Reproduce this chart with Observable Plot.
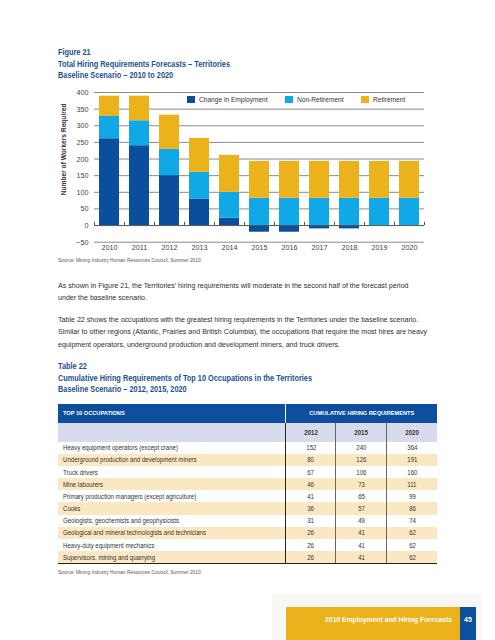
<!DOCTYPE html>
<html>
<head>
<meta charset="utf-8">
<script src="https://cdn.jsdelivr.net/npm/d3@7"></script>
<script src="https://cdn.jsdelivr.net/npm/@observablehq/plot@0.6"></script>
<style>
  html, body { margin: 0; padding: 0; background: #fff; }
  body { width: 495px; height: 640px; overflow: hidden; }
  #page { position: relative; width: 495px; height: 640px;
    font-family: "Liberation Sans", Arial, sans-serif; color: #333; }
  .abs { position: absolute; white-space: nowrap; transform-origin: 0 50%; }
  .ttl { color: #1c4f91; font-weight: bold; font-size: 9px; line-height: 11.6px; }
  .src { font-size: 5px; line-height: 6px; color: #555; }
  .para { font-size: 8px; line-height: 12.7px; color: #2e2e2e; }
  #chart { position: absolute; left: 0; top: 82px; }
  #legend { position: absolute; top: 95.7px; left: 187.3px; display: flex; font-size: 8px; line-height: 7.3px; color: #333; white-space: nowrap; }
  #legend .item { display: flex; align-items: center; margin-right: 18px; }
  #legend .sw { width: 7.3px; height: 7.3px; margin-right: 4px; flex: none; }
  #legend .lt { display: inline-block; transform-origin: 0 50%; }
  table { position: absolute; left: 58px; top: 404px; width: 379px; border-collapse: collapse; table-layout: fixed; font-size: 6.4px; }
  td, th { padding: 0; white-space: nowrap; overflow: visible; }
  .t { display: inline-block; }
  .tl { transform-origin: 0 50%; }
  .tc { transform-origin: 50% 50%; }
  .hdr th { background: #0d4f9e; color: #fff; font-weight: bold; height: 18.7px; font-size: 6px; }
  .sub td { background: #d8dbec; height: 19px; font-weight: bold; text-align: center; color: #333; }
  .row td { height: 12.16px; color: #333; }
  .row.alt td { background: #fbe8c2; }
  .num { text-align: center; }
  .c1 { border-right: 1px solid #222; }
  .cd { border-right: 1.5px solid #666; }
  .hdr .c1 { border-right: 1px solid #fff; }
  .last td { border-bottom: 1.2px solid #222; }
  .foot { color: #fff; font-weight: bold; font-size: 7px; line-height: 11px; height: 11px; }
</style>
</head>
<body>
<div id="page">
  <div class="abs ttl" style="left:58px; top:47px;">Figure 21<br>Total Hiring Requirements Forecasts – Territories<br>Baseline Scenario – 2010 to 2020</div>
  <div id="chart"></div>
  <div id="legend"></div>
  <div class="abs src" style="left:58px; top:257px;">Source: Mining Industry Human Resources Council, Summer 2010.</div>
  <div class="abs para" style="left:58px; top:279.6px;">As shown in Figure 21, the Territories’ hiring requirements will moderate in the second half of the forecast period<br>under the baseline scenario.</div>
  <div class="abs para" style="left:58px; top:313.6px;">Table 22 shows the occupations with the greatest hiring requirements in the Territories under the baseline scenario.<br>Similar to other regions (Atlantic, Prairies and British Columbia), the occupations that require the most hires are heavy<br>equipment operators, underground production and development miners, and truck drivers.</div>
  <div class="abs ttl" style="left:58px; top:361.2px;">Table 22<br>Cumulative Hiring Requirements of Top 10 Occupations in the Territories<br>Baseline Scenario – 2012, 2015, 2020</div>
  <table id="tbl"></table>
  <div class="abs src" style="left:58px; top:568.7px;">Source: Mining Industry Human Resources Council, Summer 2010.</div>
  <div class="abs" style="left:272px; top:594px; width:210px; height:46px; background:#f7f7f5;"></div>
  <div class="abs" style="left:286px; top:607px; width:174px; height:33px; background:#ebb21b;"></div>
  <div class="abs" style="left:460px; top:607px; width:16px; height:33px; background:#0c4f9c;"></div>
  <div class="abs foot" style="left:286px; top:614px; width:166px; text-align:right;"><span id="foot" class="t" style="transform-origin:100% 50%; vertical-align:top;">2010 Employment and Hiring Forecasts</span></div>
  <div class="abs foot" style="left:460px; top:614px; width:16px; text-align:center;">45</div>
</div>
<script>
// ---- Figure 21 data ----
const years = ["2010","2011","2012","2013","2014","2015","2016","2017","2018","2019","2020"];
const changeInEmployment = [261, 240, 150, 80, 22, -20, -20, -10, -10, 0, 0];
const nonRetirement = [67, 75, 79, 80, 78, 82, 82, 82, 82, 82, 82];
const retirement = [61, 74, 103, 102, 111, 111, 111, 111, 111, 111, 111];
const seriesNames = ["Change in Employment", "Non-Retirement", "Retirement"];
const seriesColors = ["#0b4f9c", "#10a8e6", "#ebb21b"];
const yTicks = [-50, 0, 50, 100, 150, 200, 250, 300, 350, 400];
const yTitle = "Number of Workers Required";

// ---- Table 22 data ----
const occupations = [
  "Heavy equipment operators (except crane)",
  "Underground production and development miners",
  "Truck drivers",
  "Mine labourers",
  "Primary production managers (except agriculture)",
  "Cooks",
  "Geologists, geochemists and geophysicists",
  "Geological and mineral technologists and technicians",
  "Heavy-duty equipment mechanics",
  "Supervisors, mining and quarrying"
];
const tableYears = ["2012", "2015", "2020"];
const hires2012 = [152, 80, 67, 46, 41, 36, 31, 26, 26, 26];
const hires2015 = [240, 126, 106, 73, 65, 57, 49, 41, 41, 41];
const hires2020 = [364, 191, 160, 111, 99, 86, 74, 62, 62, 62];

// condensed look: horizontal scale factors fitted to sample widths of the original
const ctx = document.createElement("canvas").getContext("2d");
function fit(text, weight, size, target) {
  ctx.font = `${weight} ${size}px "Liberation Sans"`;
  return target / ctx.measureText(text).width;
}
const sTitle = fit("Total Hiring Requirements Forecasts – Territories", "bold", 9, 172);
const sPara = fit("Similar to other regions (Atlantic, Prairies and British Columbia), the occupations that require the most hires are heavy", "normal", 8, 369);
const sSrc = fit("Source: Mining Industry Human Resources Council, Summer 2010.", "normal", 5, 144);
const sCell = fit("Geological and mineral technologists and technicians", "normal", 6.4, 143);
const sHead = fit("CUMULATIVE HIRING REQUIREMENTS", "bold", 6, 105);
const sTick = fit("2010", "normal", 8, 16);
const sLegend = fit("Change in Employment", "normal", 8, 68.6);
const sYLabel = fit(yTitle, "bold", 8, 92);
const sFoot = fit("2010 Employment and Hiring Forecasts", "bold", 7, 127);

document.querySelectorAll(".ttl").forEach(e => e.style.transform = `scaleX(${sTitle})`);
document.querySelectorAll(".para").forEach(e => e.style.transform = `scaleX(${sPara})`);
document.querySelectorAll(".src").forEach(e => e.style.transform = `scaleX(${sSrc})`);
document.getElementById("foot").style.transform = `scaleX(${sFoot})`;

const seriesValues = [changeInEmployment, nonRetirement, retirement];
const data = [];
years.forEach((y, i) => seriesNames.forEach((s, k) => data.push({year: y, series: s, value: seriesValues[k][i]})));

const chart = Plot.plot({
  width: 495,
  height: 175,
  marginLeft: 94,
  marginRight: 71,
  marginTop: 10,
  marginBottom: 15.3,
  style: {fontFamily: '"Liberation Sans", Arial, sans-serif', fontSize: "8px", color: "#444", background: "transparent"},
  x: {domain: years, paddingInner: 1/3, paddingOuter: 1/6, axis: null},
  y: {domain: [-50, 400], axis: null},
  color: {domain: seriesNames, range: seriesColors},
  marks: [
    Plot.ruleY(yTicks.filter(d => d !== 0), {stroke: "#8a8a8a", strokeWidth: 1}),
    Plot.barY(data, {x: "year", y: "value", fill: "series", order: seriesNames}),
    Plot.ruleY([0], {stroke: "#555", strokeWidth: 1}),
    Plot.ruleX(years, {x: d => d, y1: 0, y2: 10, dx: -15, stroke: "#555"}),
    Plot.ruleX(years.slice(-1), {x: d => d, y1: 0, y2: 10, dx: 15, stroke: "#555"}),
    Plot.axisY({ticks: yTicks, tickSize: 0, tickPadding: 6, tickFormat: d => d < 0 ? "\u2212" + Math.abs(d) : String(d), label: null}),
    Plot.text([yTitle], {frameAnchor: "left", textAnchor: "middle", lineAnchor: "middle", rotate: -90, dx: -31.5, dy: -18, fontWeight: "bold", fill: "#333", fontSize: 8}),
    Plot.axisX({tickSize: 0, tickPadding: 2.5, label: null})
  ]
});
chart.querySelectorAll("text").forEach(t => {
  const tr = t.getAttribute("transform") || "";
  const isLabel = t.textContent === yTitle;
  t.setAttribute("transform", tr + ` scale(${isLabel ? sYLabel : sTick},1)`);
});
document.getElementById("chart").appendChild(chart);

// legend
const legend = document.getElementById("legend");
seriesNames.forEach((s, k) => {
  const item = document.createElement("div");
  item.className = "item";
  item.innerHTML = `<span class="sw" style="background:${seriesColors[k]}"></span><span class="lt" style="transform:scaleX(${sLegend})">${s}</span>`;
  legend.appendChild(item);
});
legend.querySelectorAll(".lt").forEach(sp => { sp.style.marginRight = `${-(1 - sLegend) * sp.offsetWidth}px`; });

// table
const tbl = document.getElementById("tbl");
const cols = [hires2012, hires2015, hires2020];
const L = (txt, s) => `<span class="t tl" style="transform:scaleX(${s})">${txt}</span>`;
const C = (txt, s) => `<span class="t tc" style="transform:scaleX(${s})">${txt}</span>`;
let html = `<colgroup><col style="width:227.7px"><col style="width:50.3px"><col style="width:50.7px"><col style="width:50.3px"></colgroup>`;
html += `<tr class="hdr"><th class="c1" style="text-align:left; padding-left:5px;">${L("TOP 10 OCCUPATIONS", sHead)}</th><th colspan="3" style="text-align:center;">${C("CUMULATIVE HIRING REQUIREMENTS", sHead)}</th></tr>`;
html += `<tr class="sub"><td class="c1"></td>` + tableYears.map((y, j) => `<td class="${j < 2 ? 'cd' : ''}">${C(y, sCell)}</td>`).join("") + `</tr>`;
occupations.forEach((o, i) => {
  const cls = "row" + (i % 2 ? " alt" : "") + (i === occupations.length - 1 ? " last" : "");
  html += `<tr class="${cls}"><td class="c1" style="padding-left:5px;">${L(o, sCell)}</td>` +
    cols.map((c, j) => `<td class="num ${j < 2 ? 'cd' : ''}">${C(c[i], sCell)}</td>`).join("") + `</tr>`;
});
tbl.innerHTML = html;
</script>
</body>
</html>
